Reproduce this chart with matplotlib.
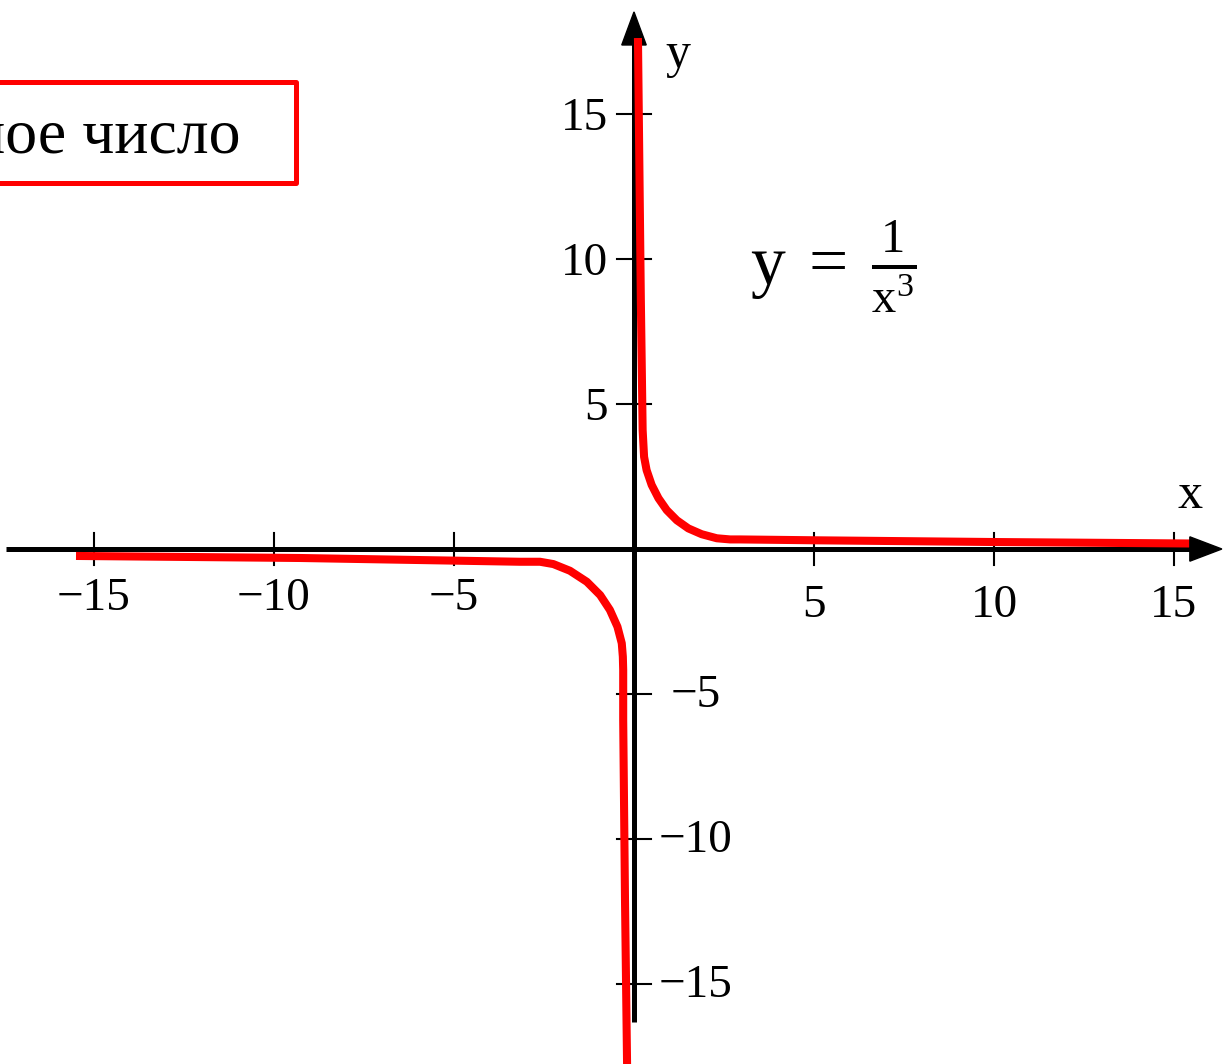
import matplotlib.pyplot as plt
from matplotlib.patches import Polygon, Rectangle

plt.rcParams['font.family'] = ['Liberation Serif', 'DejaVu Serif']
plt.rcParams['mathtext.fontset'] = 'custom'
plt.rcParams['mathtext.rm'] = 'Liberation Serif'
plt.rcParams['mathtext.it'] = 'Liberation Serif:italic'

# curve points (hand-drawn hyperbola y = 1/x^3)
right_x = [0.11, 0.19, 0.24, 0.28, 0.35, 0.49, 0.68, 0.91, 1.19, 1.51, 1.88, 2.30,
           2.67, 2.94, 5.06, 10.06, 15.44]
right_y = [17.62, 8.59, 4.10, 3.18, 2.72, 2.21, 1.75, 1.34, 0.99, 0.71, 0.51, 0.37,
           0.33, 0.33, 0.30, 0.24, 0.19]
left_x = [-15.50, -9.28, -3.17, -2.61, -2.24, -1.78, -1.31, -0.94, -0.67, -0.46,
          -0.34, -0.31, -0.30, -0.30, -0.25, -0.19]
left_y = [-0.24, -0.31, -0.44, -0.44, -0.52, -0.75, -1.13, -1.59, -2.10, -2.68,
          -3.25, -3.71, -4.17, -5.90, -12.10, -18.00]

x_ticks = [-15, -10, -5, 5, 10, 15]
y_ticks = [15, 10, 5, -5, -10, -15]
box_text = 'нечётное число'
formula = r'$\mathrm{y}\;=\;\frac{1}{\mathrm{x}^{3}}$'

fig = plt.figure(figsize=(12.24, 10.64), dpi=100)
ax = fig.add_axes([0, 0, 1, 1])
ax.set_xlim(-634 / 36, 590 / 36)
ax.set_ylim(-515 / 29, 549 / 29)
ax.axis('off')

# axes with arrows
ax.plot([-17.44, 15.5], [0, 0], color='black', lw=3.6, solid_capstyle='butt', zorder=2)
ax.plot([0, 0], [-16.31, 17.5], color='black', lw=3.6, solid_capstyle='butt', zorder=2)
ax.add_patch(Polygon([[16.33, 0], [15.44, 0.42], [15.44, -0.42]], closed=True,
                     color='black', zorder=4))
ax.add_patch(Polygon([[0, 18.52], [-0.34, 17.38], [0.34, 17.38]], closed=True,
                     color='black', zorder=2))

# ticks and labels
for t in x_ticks:
    ax.plot([t, t], [-0.55, 0.55], color='black', lw=1.5, zorder=2)
    ax.text(t, -1.72 if t < 0 else -1.95, f'{t}'.replace('-', '\u2212'),
            ha='center', va='center', fontsize=34)
for t in y_ticks:
    ax.plot([-0.47, 0.47], [t, t], color='black', lw=1.5, zorder=2)
    if t > 0:
        ax.text(-0.72, t - 0.17, f'{t}', ha='right', va='center', fontsize=34)
    else:
        ax.text(1.72, t - 0.07, f'{t}'.replace('-', '\u2212'),
                ha='center', va='center', fontsize=34)

ax.text(1.22, 17.05, 'y', ha='center', va='center', fontsize=36)
ax.text(15.44, 1.85, 'x', ha='center', va='center', fontsize=36)

# the curve
ax.plot(right_x, right_y, color='red', lw=5.8, solid_joinstyle='round',
        solid_capstyle='butt', zorder=3)
ax.plot(left_x, left_y, color='red', lw=5.8, solid_joinstyle='round',
        solid_capstyle='butt', zorder=3)

ax.text(3.22, 9.75, formula, ha='left', va='center', fontsize=50)

# framed caption cut by the left edge
ax.add_patch(Rectangle((-25, 12.62), 25 - 9.39, 16.1 - 12.62, fill=False,
                       edgecolor='red', lw=3.6, joinstyle='round', zorder=3))
ax.text(-10.94, 13.66, box_text, ha='right', va='baseline', fontsize=46)

fig.savefig('out.png', dpi=100)
